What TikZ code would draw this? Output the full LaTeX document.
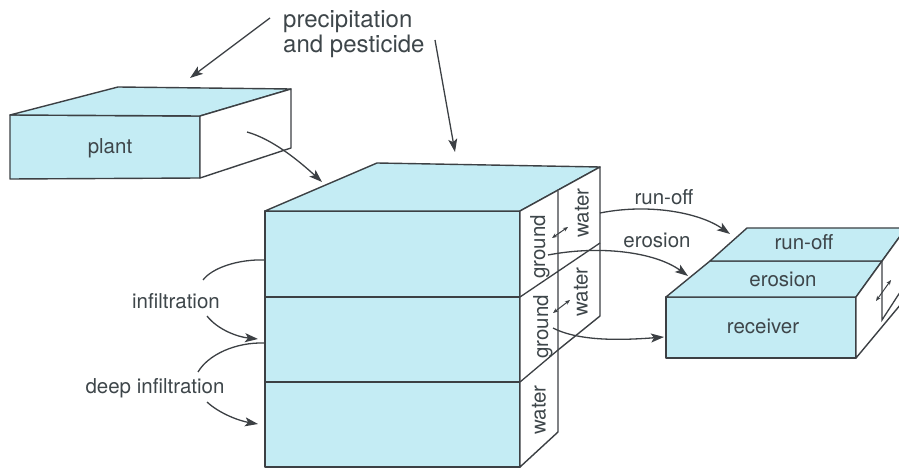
\documentclass[tikz,border=0pt]{standalone}
\usepackage{fontspec}
\setmainfont{TeX Gyre Heros}
\usetikzlibrary{arrows.meta}
\definecolor{soil}{RGB}{196,236,244}
\definecolor{ink}{RGB}{60,64,68}
\definecolor{txt}{RGB}{62,70,74}
\tikzset{%
  face/.style = {draw=ink, line width=1.4pt, line join=round, fill=soil},
  blank/.style = {face, fill=white},
  edge/.style = {draw=ink, line width=1.3pt},
  flow/.style = {edge, -{Stealth[length=13pt,width=9pt,inset=3pt]}},
  swap/.style = {draw=ink, line width=1pt,
    {Stealth[length=5pt,width=4pt]}-{Stealth[length=5pt,width=4pt]}},
  lbl/.style = {text=txt, inner sep=0pt, font=\fontsize{20.5}{23}\selectfont},
  side/.style = {lbl, rotate=90, anchor=center}
}
\begin{document}
\begin{tikzpicture}[x=1pt,y=-1pt]
  \clip (0,0) rectangle (899,470);
  % plant
  \draw[face] (10,115) -- (200,116) -- (200,178) -- (10,179) -- cycle;
  \draw[face] (10,115) -- (118,87) -- (291,89) -- (200,116) -- cycle;
  \draw[blank] (200,116) -- (291,89) -- (291,148) -- (200,178) -- cycle;
  \node[lbl, anchor=base] (plant) at (110,154) {plant};

  % soil column
  \draw[face] (265,211) rectangle (520,467);
  \draw[edge] (265,297) -- (520,297) (265,382) -- (520,382);
  \draw[face] (265,211) -- (377,163) -- (600,167) -- (520,211) -- cycle;
  \draw[blank] (520,211) -- (600,167) -- (600,316) -- (558,350)
    -- (558,432) -- (520,467) -- cycle;
  \draw[edge] (520,297) -- (600,243) (520,382) -- (558,350) (558,191) -- (558,350);
  \node[side] (g1) at (540,247) {ground};
  \node[side] (w1) at (582,213) {water};
  \node[side] (g2) at (543,327) {ground};
  \node[side] (w2) at (581,292) {water};
  \node[side] (w3) at (539,410) {water};

  % receiver
  \draw[face] (666,297) rectangle (856,358);
  \draw[face] (666,297) -- (710,261) -- (882,261) -- (856,297) -- cycle;
  \draw[face] (710,261) -- (747,228) -- (906,228) -- (882,261) -- cycle;
  \draw[blank] (856,297) -- (906,228) -- (906,298) -- (856,358) -- cycle;
  \draw[edge] (882,261) -- (882,320) -- (906,283);
  \node[lbl, anchor=base] (runbox) at (804,250) {run-off};
  \node[lbl, anchor=base] (erobox) at (783,287) {erosion};
  \node[lbl, anchor=base] (recv) at (763,333) {receiver};

  % labels
  \node[lbl, font=\fontsize{24}{25}\selectfont, align=left, anchor=north west]
    (rain) at (283,10) {precipitation\\and pesticide};
  \node[lbl, anchor=base] (inf) at (176,308) {infiltration};
  \node[lbl, anchor=base] (deep) at (155,393) {deep infiltration};
  \node[lbl, anchor=base] (run) at (664,205) {run-off};
  \node[lbl, anchor=base] (ero) at (657,248) {erosion};

  % end points
  \coordinate (r1) at (270,18);   \coordinate (p1) at (190,78);
  \coordinate (r2) at (435,40);   \coordinate (s1) at (455,152);
  \coordinate (p2) at (247,132);  \coordinate (s2) at (322,182);
  \coordinate (a1) at (265,260);  \coordinate (a2) at (203,280);
  \coordinate (a3) at (207,316);  \coordinate (a4) at (258,339);
  \coordinate (b1) at (265,343);  \coordinate (b2) at (198,372);
  \coordinate (b3) at (207,402);  \coordinate (b4) at (258,424);
  \coordinate (c1) at (600,213);  \coordinate (c2) at (730,234);
  \coordinate (d1) at (548,255);  \coordinate (d2) at (688,276);
  \coordinate (e1) at (553,328);  \coordinate (e2) at (664,337);

  % flows
  \draw[flow] (r1) -- (p1);
  \draw[flow] (r2) -- (s1);
  \draw[flow] (p2) .. controls (272,139) and (298,160) .. (s2);
  \draw[edge] (a1) .. controls (238,259) and (212,268) .. (a2);
  \draw[flow] (a3) .. controls (218,330) and (238,337) .. (a4);
  \draw[edge] (b1) .. controls (235,342) and (208,355) .. (b2);
  \draw[flow] (b3) .. controls (220,414) and (240,421) .. (b4);
  \draw[flow] (c1) .. controls (650,203) and (700,213) .. (c2);
  \draw[flow] (d1) .. controls (600,245) and (655,252) .. (d2);
  \draw[flow] (e1) .. controls (580,342) and (625,340) .. (e2);
  \draw[swap] (552,238) -- (568,227);
  \draw[swap] (553,313) -- (570,300);
  \draw[swap] (876,301) -- (891,280);
\end{tikzpicture}
\end{document}
